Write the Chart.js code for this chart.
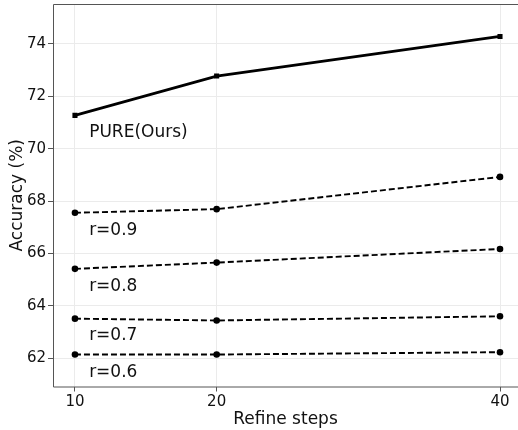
<!DOCTYPE html>
<html>
<head>
<meta charset="utf-8">
<script src="https://cdn.jsdelivr.net/npm/chart.js@4"></script>
<style>
  html, body { margin: 0; padding: 0; background: #fff; }
  #wrap { width: 518px; height: 430px; }
</style>
</head>
<body>
<div id="wrap"><canvas id="myChart" width="518" height="430"></canvas></div>
<script>
// data
var steps = [10, 20, 40];
var pure = [71.27, 72.77, 74.28];
var r09 = [67.55, 67.69, 68.92];
var r08 = [65.41, 65.65, 66.17];
var r07 = [63.51, 63.44, 63.60];
var r06 = [62.14, 62.14, 62.23];
var xTicks = [10, 20, 40];
var yTicks = [62, 64, 66, 68, 70, 72, 74];

// text labels next to lines (x, y in data units)
var lineNames = ["PURE(Ours)", "r=0.9", "r=0.8", "r=0.7", "r=0.6"];
var nameX = [11.0, 11.0, 11.0, 11.0, 11.0];
var nameY = [70.6, 66.86, 64.73, 62.85, 61.47];

function toPoints(vals) {
  return steps.map(function(s, i) { return {x: s, y: vals[i]}; });
}

function dashed(vals) {
  return {
    data: toPoints(vals),
    borderColor: '#000',
    backgroundColor: '#000',
    borderWidth: 1.9,
    borderDash: [6, 3],
    pointStyle: 'circle',
    pointRadius: 3.3,
    pointBorderWidth: 0
  };
}

// no extra label padding, axis box is fixed
function noPad(scale) {
  scale.paddingTop = 0;
  scale.paddingBottom = 0;
  scale.paddingLeft = 0;
  scale.paddingRight = 0;
}

// frame (no right spine, it is cut off) + line names
var extras = {
  id: 'extras',
  afterDatasetsDraw: function(chart) {
    var ctx = chart.ctx;
    var a = chart.chartArea;
    var xs = chart.scales.x, ys = chart.scales.y;
    ctx.save();
    ctx.strokeStyle = '#555';
    ctx.lineWidth = 1;
    ctx.beginPath();
    ctx.moveTo(a.right, a.top + 0.5);
    ctx.lineTo(a.left + 0.5, a.top + 0.5);
    ctx.lineTo(a.left + 0.5, a.bottom + 0.5);
    ctx.lineTo(a.right, a.bottom + 0.5);
    ctx.stroke();
    ctx.fillStyle = '#111';
    ctx.font = '17px "DejaVu Sans"';
    ctx.textAlign = 'left';
    ctx.textBaseline = 'middle';
    for (var i = 0; i < lineNames.length; i++) {
      ctx.fillText(lineNames[i], xs.getPixelForValue(nameX[i]), ys.getPixelForValue(nameY[i]));
    }
    ctx.restore();
  }
};

var ctx = document.getElementById('myChart').getContext('2d');
var chart = new Chart(ctx, {
  type: 'line',
  data: {
    datasets: [
      {
        data: toPoints(pure),
        borderColor: '#000',
        backgroundColor: '#000',
        borderWidth: 2.8,
        pointStyle: 'rect',
        pointRadius: 3.6,
        pointBorderWidth: 0
      },
      dashed(r09),
      dashed(r08),
      dashed(r07),
      dashed(r06)
    ]
  },
  options: {
    responsive: false,
    animation: false,
    layout: { autoPadding: false, padding: { top: 4, right: 0, left: 0, bottom: 0 } },
    plugins: { legend: { display: false }, tooltip: { enabled: false } },
    scales: {
      x: {
        type: 'linear',
        min: 8.45,
        max: 41.27,
        afterBuildTicks: function(scale) {
          scale.ticks = xTicks.map(function(v) { return {value: v}; });
        },
        afterFit: function(scale) { scale.height = 43.5; noPad(scale); },
        grid: { color: '#ebebeb', lineWidth: 1, tickLength: 5, tickColor: '#555' },
        border: { display: false },
        ticks: { color: '#111', padding: 2, maxRotation: 0, font: { family: 'DejaVu Sans', size: 15 } },
        title: { display: true, text: 'Refine steps', color: '#111', padding: { top: 0, bottom: 0 },
                 font: { family: 'DejaVu Sans', size: 17 } }
      },
      y: {
        min: 60.92,
        max: 75.52,
        afterBuildTicks: function(scale) {
          scale.ticks = yTicks.map(function(v) { return {value: v}; });
        },
        afterFit: function(scale) { scale.width = 53; noPad(scale); },
        grid: { color: '#ebebeb', lineWidth: 1, tickLength: 5, tickColor: '#555' },
        border: { display: false },
        ticks: { color: '#111', padding: 2, font: { family: 'DejaVu Sans', size: 15 } },
        title: { display: true, text: 'Accuracy (%)', color: '#111', padding: { top: 7, bottom: 0 },
                 font: { family: 'DejaVu Sans', size: 17 } }
      }
    }
  },
  plugins: [extras]
});
</script>
</body>
</html>
